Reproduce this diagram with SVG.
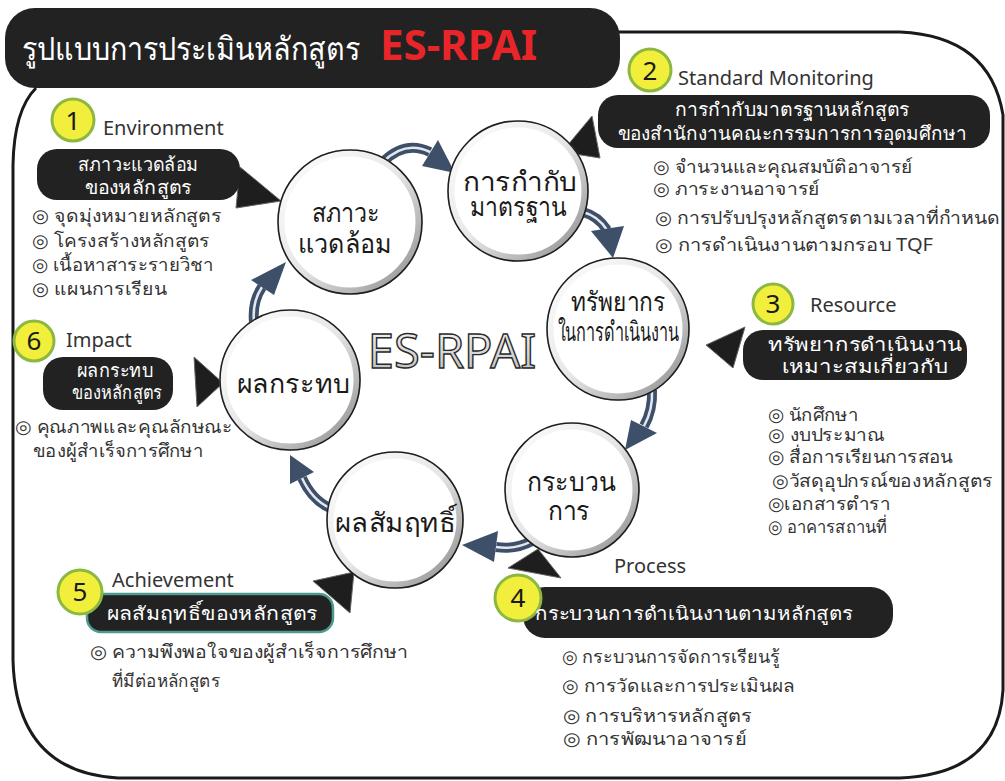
<svg xmlns="http://www.w3.org/2000/svg" width="1005" height="781" viewBox="0 0 1005 781">
<defs>
<linearGradient id="ring" x1="0" y1="0" x2="1" y2="1">
<stop offset="0" stop-color="#ffffff"/>
<stop offset="0.5" stop-color="#e6e6e6"/>
<stop offset="1" stop-color="#8a8a8a"/>
</linearGradient>
<linearGradient id="esg" x1="0" y1="0" x2="0" y2="1">
<stop offset="0" stop-color="#ffffff"/>
<stop offset="1" stop-color="#b5b5b5"/>
</linearGradient>
</defs>
<style>
text{font-family:"Noto Sans","DejaVu Sans",sans-serif}
.box{fill:#222222}
.bt{fill:#ffffff;font-size:19px;text-anchor:middle}
.lab{fill:#333333;font-size:20px}
.li{fill:#333333;font-size:18px}
.ct{fill:#1a1a1a;font-size:27px;text-anchor:middle}
.num{fill:#f1ee3c;stroke:#8cb842;stroke-width:3}
.nt{fill:#1a1a1a;font-size:26px;text-anchor:middle}
.tri{fill:#1e1e1e;stroke:#666;stroke-width:1}
.circ{fill:#ffffff;stroke:url(#ring);stroke-width:7}
.co{fill:none;stroke:#1e1e1e;stroke-width:1.6}
.band{fill:none;stroke:#3e5069;stroke-width:10;stroke-linecap:butt}
.bandi{fill:none;stroke:#e4e8ee;stroke-width:2.5}
.ah{fill:#3e5069}
</style>
<rect width="1005" height="781" fill="#ffffff"/>
<path d="M 36,88 Q 14,110 13,165 L 13,660 Q 16,772 118,778 L 900,778 Q 998,774 1003,690 L 1003,115 Q 990,36 900,32 L 610,32" fill="none" stroke="#1a1a1a" stroke-width="3"/>
<g id="title">
<rect x="5" y="8" width="615" height="80" rx="30" fill="#222222"/>
<text x="22" y="60" fill="#ffffff" font-size="32" textLength="338" lengthAdjust="spacingAndGlyphs">รูปแบบการประเมินหลักสูตร</text>
<text x="380" y="60" fill="#e8262a" font-size="42" font-weight="bold">ES-RPAI</text>
</g>
<g id="connectors">
<path class="band" d="M 383,162 Q 405,140 430,152"/><path class="bandi" d="M 383,162 Q 405,140 430,152"/>
<polygon class="ah" points="438,140 422,166 455,173"/>
<path class="band" d="M 583,212 Q 598,216 607,230"/><path class="bandi" d="M 583,212 Q 598,216 607,230"/>
<polygon class="ah" points="591,231 624,226 613,258"/>
<path class="band" d="M 652,390 Q 653,410 644,426"/><path class="bandi" d="M 652,390 Q 653,410 644,426"/>
<polygon class="ah" points="631,420 657,433 625,450"/>
<path class="band" d="M 532,541 Q 515,550 496,547"/><path class="bandi" d="M 532,541 Q 515,550 496,547"/>
<polygon class="ah" points="498,531 494,562 462,545"/>
<path class="band" d="M 330,508 Q 312,500 302,478"/><path class="bandi" d="M 330,508 Q 312,500 302,478"/>
<polygon class="ah" points="314,472 290,484 290,455"/>
<path class="band" d="M 254,322 Q 252,302 262,287"/><path class="bandi" d="M 254,322 Q 252,302 262,287"/>
<polygon class="ah" points="251,280 274,295 286,262"/>
<polygon class="tri" points="240,167 281,201 236,208"/>
<polygon class="tri" points="592,116 600,158 562,152"/>
<polygon class="tri" points="745,327 733,368 706,345"/>
<polygon class="tri" points="194,357 223,383 197,407"/>
<polygon class="tri" points="313,581 354,572 350,613"/>
<polygon class="tri" points="508,568 538,549 561,578"/>
</g>
<g id="center-label">
<text x="452" y="368" font-size="47" fill="url(#esg)" stroke="#2a2a2a" stroke-width="1.4" text-anchor="middle">ES-RPAI</text>
</g>
<g id="c1">
<circle class="circ" cx="350" cy="222" r="69"/><circle class="co" cx="350" cy="222" r="72"/>
<text class="ct" x="346" y="222" textLength="68" lengthAdjust="spacingAndGlyphs">สภาวะ</text>
<text class="ct" x="345" y="253" textLength="94" lengthAdjust="spacingAndGlyphs">แวดล้อม</text>
</g>
<g id="c2">
<circle class="circ" cx="518" cy="191" r="67"/><circle class="co" cx="518" cy="191" r="70"/>
<text class="ct" x="520" y="191" font-size="25" textLength="114" lengthAdjust="spacingAndGlyphs">การกำกับ</text>
<text class="ct" x="518" y="216" font-size="23" textLength="97" lengthAdjust="spacingAndGlyphs">มาตรฐาน</text>
</g>
<g id="c3">
<circle class="circ" cx="618" cy="329" r="68"/><circle class="co" cx="618" cy="329" r="71"/>
<text class="ct" x="618" y="311" font-size="25" textLength="95" lengthAdjust="spacingAndGlyphs">ทรัพยากร</text>
<text class="ct" x="618" y="341" font-size="21" textLength="121" lengthAdjust="spacingAndGlyphs">ในการดำเนินงาน</text>
</g>
<g id="c4">
<circle class="circ" cx="572" cy="490" r="64"/><circle class="co" cx="572" cy="490" r="67"/>
<text class="ct" x="571" y="491" textLength="88" lengthAdjust="spacingAndGlyphs">กระบวน</text>
<text class="ct" x="569" y="520" textLength="42" lengthAdjust="spacingAndGlyphs">การ</text>
</g>
<g id="c5">
<circle class="circ" cx="395" cy="520" r="65"/><circle class="co" cx="395" cy="520" r="68"/>
<text class="ct" x="395" y="532" textLength="120" lengthAdjust="spacingAndGlyphs">ผลสัมฤทธิ์</text>
</g>
<g id="c6">
<circle class="circ" cx="290" cy="380" r="67"/><circle class="co" cx="290" cy="380" r="70"/>
<text class="ct" x="293" y="393" textLength="113" lengthAdjust="spacingAndGlyphs">ผลกระทบ</text>
</g>
<g id="n1">
<circle class="num" cx="73" cy="120" r="21"/><text class="nt" x="73" y="130">1</text>
<text class="lab" x="103" y="135">Environment</text>
<rect class="box" x="37" y="149" width="203" height="51" rx="20"/>
<text class="bt" x="138" y="171" textLength="121" lengthAdjust="spacingAndGlyphs">สภาวะแวดล้อม</text>
<text class="bt" x="138" y="194" textLength="107" lengthAdjust="spacingAndGlyphs">ของหลักสูตร</text>
<text class="li" x="32" y="222" textLength="190" lengthAdjust="spacingAndGlyphs">◎ จุดมุ่งหมายหลักสูตร</text>
<text class="li" x="32" y="247" textLength="178" lengthAdjust="spacingAndGlyphs">◎ โครงสร้างหลักสูตร</text>
<text class="li" x="32" y="271" textLength="181" lengthAdjust="spacingAndGlyphs">◎ เนื้อหาสาระรายวิชา</text>
<text class="li" x="32" y="295" textLength="135" lengthAdjust="spacingAndGlyphs">◎ แผนการเรียน</text>
</g>
<g id="n2">
<circle class="num" cx="650" cy="70" r="21"/><text class="nt" x="650" y="80">2</text>
<text class="lab" x="678" y="85">Standard Monitoring</text>
<rect class="box" x="598" y="95" width="392" height="53" rx="20"/>
<text class="bt" x="792" y="116" textLength="235" lengthAdjust="spacingAndGlyphs">การกำกับมาตรฐานหลักสูตร</text>
<text class="bt" x="792" y="140" textLength="349" lengthAdjust="spacingAndGlyphs">ของสำนักงานคณะกรรมการการอุดมศึกษา</text>
<text class="li" x="653" y="173" textLength="260" lengthAdjust="spacingAndGlyphs">◎ จำนวนและคุณสมบัติอาจารย์</text>
<text class="li" x="653" y="195" textLength="167" lengthAdjust="spacingAndGlyphs">◎ ภาระงานอาจารย์</text>
<text class="li" x="655" y="224" textLength="345" lengthAdjust="spacingAndGlyphs">◎ การปรับปรุงหลักสูตรตามเวลาที่กำหนด</text>
<text class="li" x="655" y="251" textLength="278" lengthAdjust="spacingAndGlyphs">◎ การดำเนินงานตามกรอบ TQF</text>
</g>
<g id="n3">
<circle class="num" cx="773" cy="304" r="20"/><text class="nt" x="773" y="313">3</text>
<text class="lab" x="810" y="312">Resource</text>
<rect class="box" x="743" y="330" width="224" height="50" rx="20"/>
<text class="bt" x="865" y="351" textLength="195" lengthAdjust="spacingAndGlyphs">ทรัพยากรดำเนินงาน</text>
<text class="bt" x="865" y="373" textLength="166" lengthAdjust="spacingAndGlyphs">เหมาะสมเกี่ยวกับ</text>
<text class="li" x="768" y="421" textLength="90" lengthAdjust="spacingAndGlyphs">◎ นักศึกษา</text>
<text class="li" x="768" y="441" textLength="117" lengthAdjust="spacingAndGlyphs">◎ งบประมาณ</text>
<text class="li" x="768" y="463" textLength="185" lengthAdjust="spacingAndGlyphs">◎ สื่อการเรียนการสอน</text>
<text class="li" x="772" y="487" textLength="221" lengthAdjust="spacingAndGlyphs">◎วัสดุอุปกรณ์ของหลักสูตร</text>
<text class="li" x="768" y="510" textLength="122" lengthAdjust="spacingAndGlyphs">◎เอกสารตำรา</text>
<text class="li" x="768" y="533" textLength="119" lengthAdjust="spacingAndGlyphs">◎ อาคารสถานที่</text>
</g>
<g id="n6">
<circle class="num" cx="34" cy="341" r="20"/><text class="nt" x="34" y="350">6</text>
<text class="lab" x="66" y="347">Impact</text>
<rect class="box" x="43" y="357" width="130" height="53" rx="20"/>
<text class="bt" x="115" y="377" font-size="18" textLength="76" lengthAdjust="spacingAndGlyphs">ผลกระทบ</text>
<text class="bt" x="117" y="399" font-size="18" textLength="90" lengthAdjust="spacingAndGlyphs">ของหลักสูตร</text>
<text class="li" x="15" y="433" textLength="218" lengthAdjust="spacingAndGlyphs">◎ คุณภาพและคุณลักษณะ</text>
<text class="li" x="33" y="457" textLength="170" lengthAdjust="spacingAndGlyphs">ของผู้สำเร็จการศึกษา</text>
</g>
<g id="n5">
<rect x="87" y="594" width="246" height="38" rx="14" fill="#222222" stroke="#4f9a8e" stroke-width="2.5"/>
<circle class="num" cx="80" cy="592" r="22"/><text class="nt" x="80" y="601">5</text>
<text class="lab" x="112" y="587">Achievement</text>
<text class="bt" x="212" y="620" textLength="211" lengthAdjust="spacingAndGlyphs">ผลสัมฤทธิ์ของหลักสูตร</text>
<text class="li" x="90" y="658" textLength="318" lengthAdjust="spacingAndGlyphs">◎ ความพึงพอใจของผู้สำเร็จการศึกษา</text>
<text class="li" x="112" y="687" textLength="108" lengthAdjust="spacingAndGlyphs">ที่มีต่อหลักสูตร</text>
</g>
<g id="n4">
<text class="lab" x="614" y="573">Process</text>
<rect class="box" x="523" y="587" width="370" height="51" rx="22"/>
<circle class="num" cx="518" cy="598" r="23"/><text class="nt" x="518" y="607">4</text>
<text class="bt" x="694" y="620" textLength="318" lengthAdjust="spacingAndGlyphs">กระบวนการดำเนินงานตามหลักสูตร</text>
<text class="li" x="562" y="663" textLength="218" lengthAdjust="spacingAndGlyphs">◎ กระบวนการจัดการเรียนรู้</text>
<text class="li" x="562" y="692" textLength="233" lengthAdjust="spacingAndGlyphs">◎ การวัดและการประเมินผล</text>
<text class="li" x="563" y="722" textLength="189" lengthAdjust="spacingAndGlyphs">◎ การบริหารหลักสูตร</text>
<text class="li" x="563" y="745" textLength="184" lengthAdjust="spacingAndGlyphs">◎ การพัฒนาอาจารย์</text>
</g>
</svg>
